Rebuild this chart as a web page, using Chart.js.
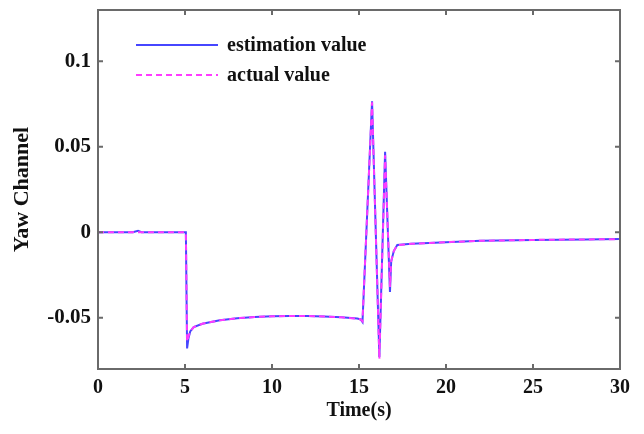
<!DOCTYPE html>
<html>
<head>
<meta charset="utf-8">
<script src="https://cdn.jsdelivr.net/npm/chart.js@4.4.1/dist/chart.umd.min.js"></script>
<style>
  html, body { margin: 0; padding: 0; background: #fff; }
  #c { display: block; }
</style>
</head>
<body>
<canvas id="c" width="644" height="434"></canvas>
<script>
// ---- data ----
const time = [0, 2.0, 2.3, 2.5, 5.05, 5.12, 5.2, 5.3, 5.5, 6, 7, 8, 9, 10, 11, 12, 13, 14, 14.9, 15.1, 15.2, 15.75, 16.17, 16.5, 16.78, 16.85, 17.0, 17.2, 18, 20, 22, 25, 28, 30];
const estimation = [0, 0, 0.0008, 0, 0, -0.068, -0.062, -0.058, -0.0555, -0.0535, -0.0515, -0.0503, -0.0496, -0.0492, -0.049, -0.049, -0.0493, -0.0498, -0.0505, -0.051, -0.0525, 0.0766, -0.073, 0.047, -0.035, -0.017, -0.011, -0.0075, -0.0068, -0.0058, -0.005, -0.0045, -0.0042, -0.004];
const actual = [0, 0, 0, 0, 0, -0.064, -0.061, -0.058, -0.0555, -0.0535, -0.0515, -0.0503, -0.0496, -0.0492, -0.049, -0.049, -0.0493, -0.0498, -0.0505, -0.051, -0.052, 0.0760, -0.074, 0.045, -0.032, -0.017, -0.011, -0.0075, -0.0068, -0.0058, -0.005, -0.0045, -0.0042, -0.004];
const xTicks = [0, 5, 10, 15, 20, 25, 30];
const yTicks = [-0.05, 0, 0.05, 0.1];
const yTickLabels = ['-0.05', '0', '0.05', '0.1'];
const seriesNames = ['estimation value', 'actual value'];

const FONT = 'Liberation Serif, Times New Roman, serif';
const AXIS_COLOR = '#6a6a6a';
const BLUE = '#4646ff';
const MAGENTA = '#ff3cff';

const toPoints = (arr) => arr.map((v, i) => ({ x: time[i], y: v }));

const framePlugin = {
  id: 'frame',
  afterDatasetsDraw(chart) {
    const { ctx, chartArea: a, scales } = chart;
    ctx.save();
    ctx.strokeStyle = AXIS_COLOR;
    ctx.lineWidth = 2;
    ctx.strokeRect(a.left, a.top, a.right - a.left, a.bottom - a.top);
    const tl = 5;
    ctx.beginPath();
    xTicks.forEach(v => {
      const px = scales.x.getPixelForValue(v);
      ctx.moveTo(px, a.bottom); ctx.lineTo(px, a.bottom - tl);
      ctx.moveTo(px, a.top); ctx.lineTo(px, a.top + tl);
    });
    yTicks.forEach(v => {
      const py = scales.y.getPixelForValue(v);
      ctx.moveTo(a.left, py); ctx.lineTo(a.left + tl, py);
      ctx.moveTo(a.right, py); ctx.lineTo(a.right - tl, py);
    });
    ctx.stroke();
    ctx.restore();
  }
};

const legendPlugin = {
  id: 'innerLegend',
  afterDatasetsDraw(chart) {
    const { ctx } = chart;
    ctx.save();
    const rows = [
      { y: 45, color: BLUE, dash: [] , text: seriesNames[0]},
      { y: 75, color: MAGENTA, dash: [6, 4], text: seriesNames[1]}
    ];
    rows.forEach(r => {
      ctx.strokeStyle = r.color;
      ctx.lineWidth = 2;
      ctx.setLineDash(r.dash);
      ctx.beginPath();
      ctx.moveTo(136, r.y); ctx.lineTo(218, r.y);
      ctx.stroke();
      ctx.setLineDash([]);
      ctx.fillStyle = '#111';
      ctx.font = 'bold 20px ' + FONT;
      ctx.textBaseline = 'middle';
      ctx.textAlign = 'left';
      ctx.fillText(r.text, 227, r.y + 1);
    });
    ctx.restore();
  }
};

new Chart(document.getElementById('c'), {
  type: 'line',
  data: {
    datasets: [
      { label: seriesNames[0], data: toPoints(estimation), borderColor: BLUE, borderWidth: 2, pointRadius: 0, tension: 0, order: 1 },
      { label: seriesNames[1], data: toPoints(actual), borderColor: MAGENTA, borderWidth: 2, borderDash: [6, 4], pointRadius: 0, tension: 0, order: 0 }
    ]
  },
  options: {
    responsive: false,
    animation: false,
    layout: { padding: { left: 0, right: 24, top: 10, bottom: 0 } },
    plugins: { legend: { display: false }, tooltip: { enabled: false } },
    scales: {
      x: {
        type: 'linear', min: 0, max: 30,
        afterBuildTicks: (s) => { s.ticks = xTicks.map(v => ({ value: v })); },
        afterFit: (s) => { s.height = 65; s.paddingLeft = 0; s.paddingRight = 0; },
        grid: { display: false, drawTicks: false },
        border: { display: false },
        ticks: { color: '#111', font: { family: FONT, size: 20, weight: 'bold' }, padding: 7, maxRotation: 0 },
        title: { display: true, text: 'Time(s)', color: '#111', font: { family: FONT, size: 20, weight: 'bold' }, padding: { top: 0, bottom: 11 } }
      },
      y: {
        type: 'linear', min: -0.08, max: 0.13,
        afterBuildTicks: (s) => { s.ticks = yTicks.map(v => ({ value: v })); },
        afterFit: (s) => { s.width = 98; s.paddingTop = 0; s.paddingBottom = 0; },
        grid: { display: false, drawTicks: false },
        border: { display: false },
        ticks: {
          color: '#111', font: { family: FONT, size: 21, weight: 'bold' }, padding: 7,
          callback: (v) => { const i = yTicks.findIndex(t => Math.abs(t - v) < 1e-9); return i >= 0 ? yTickLabels[i] : ''; }
        },
        title: { display: true, text: 'Yaw Channel', color: '#111', font: { family: FONT, size: 22, weight: 'bold' }, padding: { top: 9, bottom: 0 } }
      }
    }
  },
  plugins: [framePlugin, legendPlugin]
});
</script>
</body>
</html>
